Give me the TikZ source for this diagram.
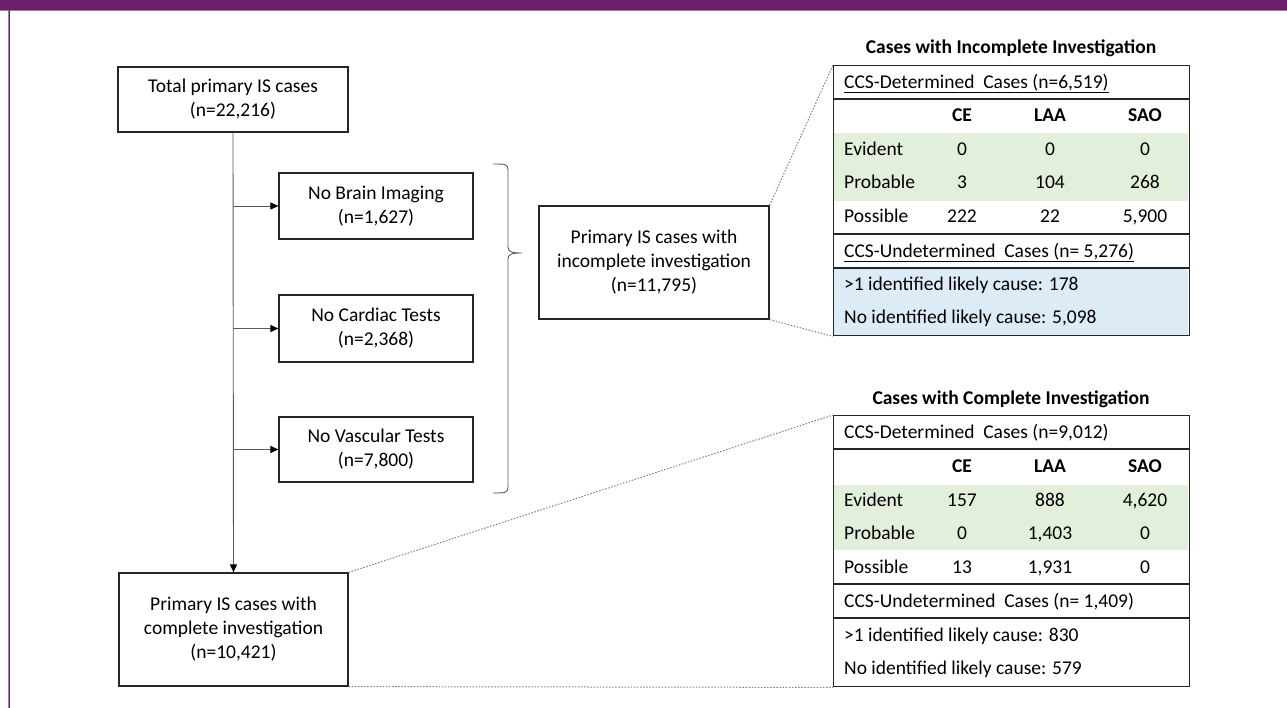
\documentclass[tikz,border=0pt]{standalone}
\usepackage{fontspec}
\setmainfont{Carlito}
\usetikzlibrary{arrows.meta}
\definecolor{purplebar}{HTML}{6A1F6D}
\definecolor{purplelight}{HTML}{A878AA}
\definecolor{greenfill}{HTML}{E2EFDA}
\definecolor{bluefill}{HTML}{DDEBF7}
\definecolor{linegray}{HTML}{595959}
\tikzset{
  flowbox/.style={draw=black!85, line width=1.2pt, fill=white, align=center, inner sep=2pt,
    font=\fontsize{19.5}{24}\selectfont},
  conn/.style={draw=linegray, line width=0.9pt},
  arr/.style={conn, -{Triangle[length=8pt,width=7pt,color=black]}},
  zoomline/.style={draw=gray, line width=1pt, dash pattern=on 1.5pt off 1.6pt},
  tframe/.style={draw=black!85, line width=1.4pt},
  ttext/.style={inner sep=0pt, text height=14pt, text depth=3pt, font=\fontsize{19.5}{22}\selectfont},
  tbold/.style={ttext, font=\fontsize{19.5}{22}\selectfont\bfseries},
  ttitle/.style={inner sep=0pt, font=\fontsize{19.5}{22}\selectfont\bfseries},
}
\begin{document}
\begin{tikzpicture}[x=1pt,y=-1pt]
\useasboundingbox (0,0) rectangle (1287,708);
% frame
\fill[purplebar] (0,0) rectangle (1287,10);
\draw[purplelight, line width=1pt] (0,10.5) -- (1287,10.5);
\draw[purplelight, line width=0.8pt] (8,10) -- (8,708);
\draw[purplebar, line width=1.3pt] (9.3,10) -- (9.3,708);

% left flow
\node[flowbox, minimum width=230, minimum height=65] (total) at (233,99.5) {Total primary IS cases\\(n=22,216)};
\node[flowbox, minimum width=194, minimum height=66] (brain) at (376,206) {No Brain Imaging\\(n=1,627)};
\node[flowbox, minimum width=194, minimum height=67] (cardiac) at (376,328.5) {No Cardiac Tests\\(n=2,368)};
\node[flowbox, minimum width=194, minimum height=65] (vasc) at (376,449.5) {No Vascular Tests\\(n=7,800)};
\node[flowbox, minimum width=229, minimum height=113] (complete) at (233.5,629.5) {Primary IS cases with\\complete investigation\\(n=10,421)};
\node[flowbox, minimum width=230, minimum height=113] (incomplete) at (654,262.5) {Primary IS cases with\\incomplete investigation\\(n=11,795)};

\draw[arr] (total.south) -- (complete.north);
\draw[arr] (total.south |- brain.west) -- (brain.west);
\draw[arr] (total.south |- cardiac.west) -- (cardiac.west);
\draw[arr] (total.south |- vasc.west) -- (vasc.west);

% brace
\draw[conn] (493,164) .. controls (505,164) and (508,164) .. (508,170) -- (508,247)
  .. controls (508,252) and (512,253) .. (522,253)
  .. controls (512,253) and (508,254) .. (508,259) -- (508,487)
  .. controls (508,493) and (505,493) .. (493,493);

% ---------- Table 1 (incomplete) ----------
\node[ttitle] (t1title) at (1011,48) {Cases with Incomplete Investigation};
\fill[greenfill] (834,133) rectangle (1188,201);
\fill[bluefill] (834,268) rectangle (1188,335);
\node[tframe, minimum width=356, minimum height=270, anchor=north west, inner sep=0pt] (t1) at (833,65) {};
\draw[tframe] (t1.west |- 0,99) -- (t1.east |- 0,99);
\draw[tframe] (t1.west |- 0,234) -- (t1.east |- 0,234);
\draw[tframe] (t1.west |- 0,268) -- (t1.east |- 0,268);
\node[ttext, anchor=west] (t1h) at (844,83) {\underline{CCS-Determined\ \ Cases (n=6,519)}};
\node[tbold] (t1ce) at (962,116) {CE};
\node[tbold] (t1laa) at (1050,116) {LAA};
\node[tbold] (t1sao) at (1145,116) {SAO};
\node[ttext, anchor=west] (t1r1) at (844,150) {Evident};
\node[ttext] at (962,150) {0};
\node[ttext] at (1050,150) {0};
\node[ttext] at (1145,150) {0};
\node[ttext, anchor=west] (t1r2) at (844,183) {Probable};
\node[ttext] at (962,183) {3};
\node[ttext] at (1050,183) {104};
\node[ttext] at (1145,183) {268};
\node[ttext, anchor=west] (t1r3) at (844,217) {Possible};
\node[ttext] at (962,217) {222};
\node[ttext] at (1050,217) {22};
\node[ttext] at (1145,217) {5,900};
\node[ttext, anchor=west] (t1u) at (844,252) {\underline{CCS-Undetermined\ \ Cases (n= 5,276)}};
\node[ttext, anchor=west] (t1u1) at (844,285) {>1 identified likely cause: 178};
\node[ttext, anchor=west] (t1u2) at (844,318) {No identified likely cause: 5,098};

% ---------- Table 2 (complete) ----------
\node[ttitle] (t2title) at (1011,399) {Cases with Complete Investigation};
\fill[greenfill] (834,485) rectangle (1188,550);
\node[tframe, minimum width=356, minimum height=271, anchor=north west, inner sep=0pt] (t2) at (833,415) {};
\draw[tframe] (t2.west |- 0,449) -- (t2.east |- 0,449);
\draw[tframe] (t2.west |- 0,584) -- (t2.east |- 0,584);
\draw[tframe] (t2.west |- 0,618) -- (t2.east |- 0,618);
\node[ttext, anchor=west] (t2h) at (844,433) {CCS-Determined\ \ Cases (n=9,012)};
\node[tbold] (t2ce) at (962,467) {CE};
\node[tbold] (t2laa) at (1050,467) {LAA};
\node[tbold] (t2sao) at (1145,467) {SAO};
\node[ttext, anchor=west] (t2r1) at (844,501) {Evident};
\node[ttext] at (962,501) {157};
\node[ttext] at (1050,501) {888};
\node[ttext] at (1145,501) {4,620};
\node[ttext, anchor=west] (t2r2) at (844,534) {Probable};
\node[ttext] at (962,534) {0};
\node[ttext] at (1050,534) {1,403};
\node[ttext] at (1145,534) {0};
\node[ttext, anchor=west] (t2r3) at (844,568) {Possible};
\node[ttext] at (962,568) {13};
\node[ttext] at (1050,568) {1,931};
\node[ttext] at (1145,568) {0};
\node[ttext, anchor=west] (t2u) at (844,602) {CCS-Undetermined\ \ Cases (n= 1,409)};
\node[ttext, anchor=west] (t2u1) at (844,636) {>1 identified likely cause: 830};
\node[ttext, anchor=west] (t2u2) at (844,669) {No identified likely cause: 579};

% zoom lines
\draw[zoomline] (incomplete.north east) -- (t1.north west);
\draw[zoomline] (incomplete.south east) -- (t1.south west);
\draw[zoomline] (complete.north east) -- (t2.north west);
\draw[zoomline] (complete.south east) -- (t2.south west);
\end{tikzpicture}
\end{document}
